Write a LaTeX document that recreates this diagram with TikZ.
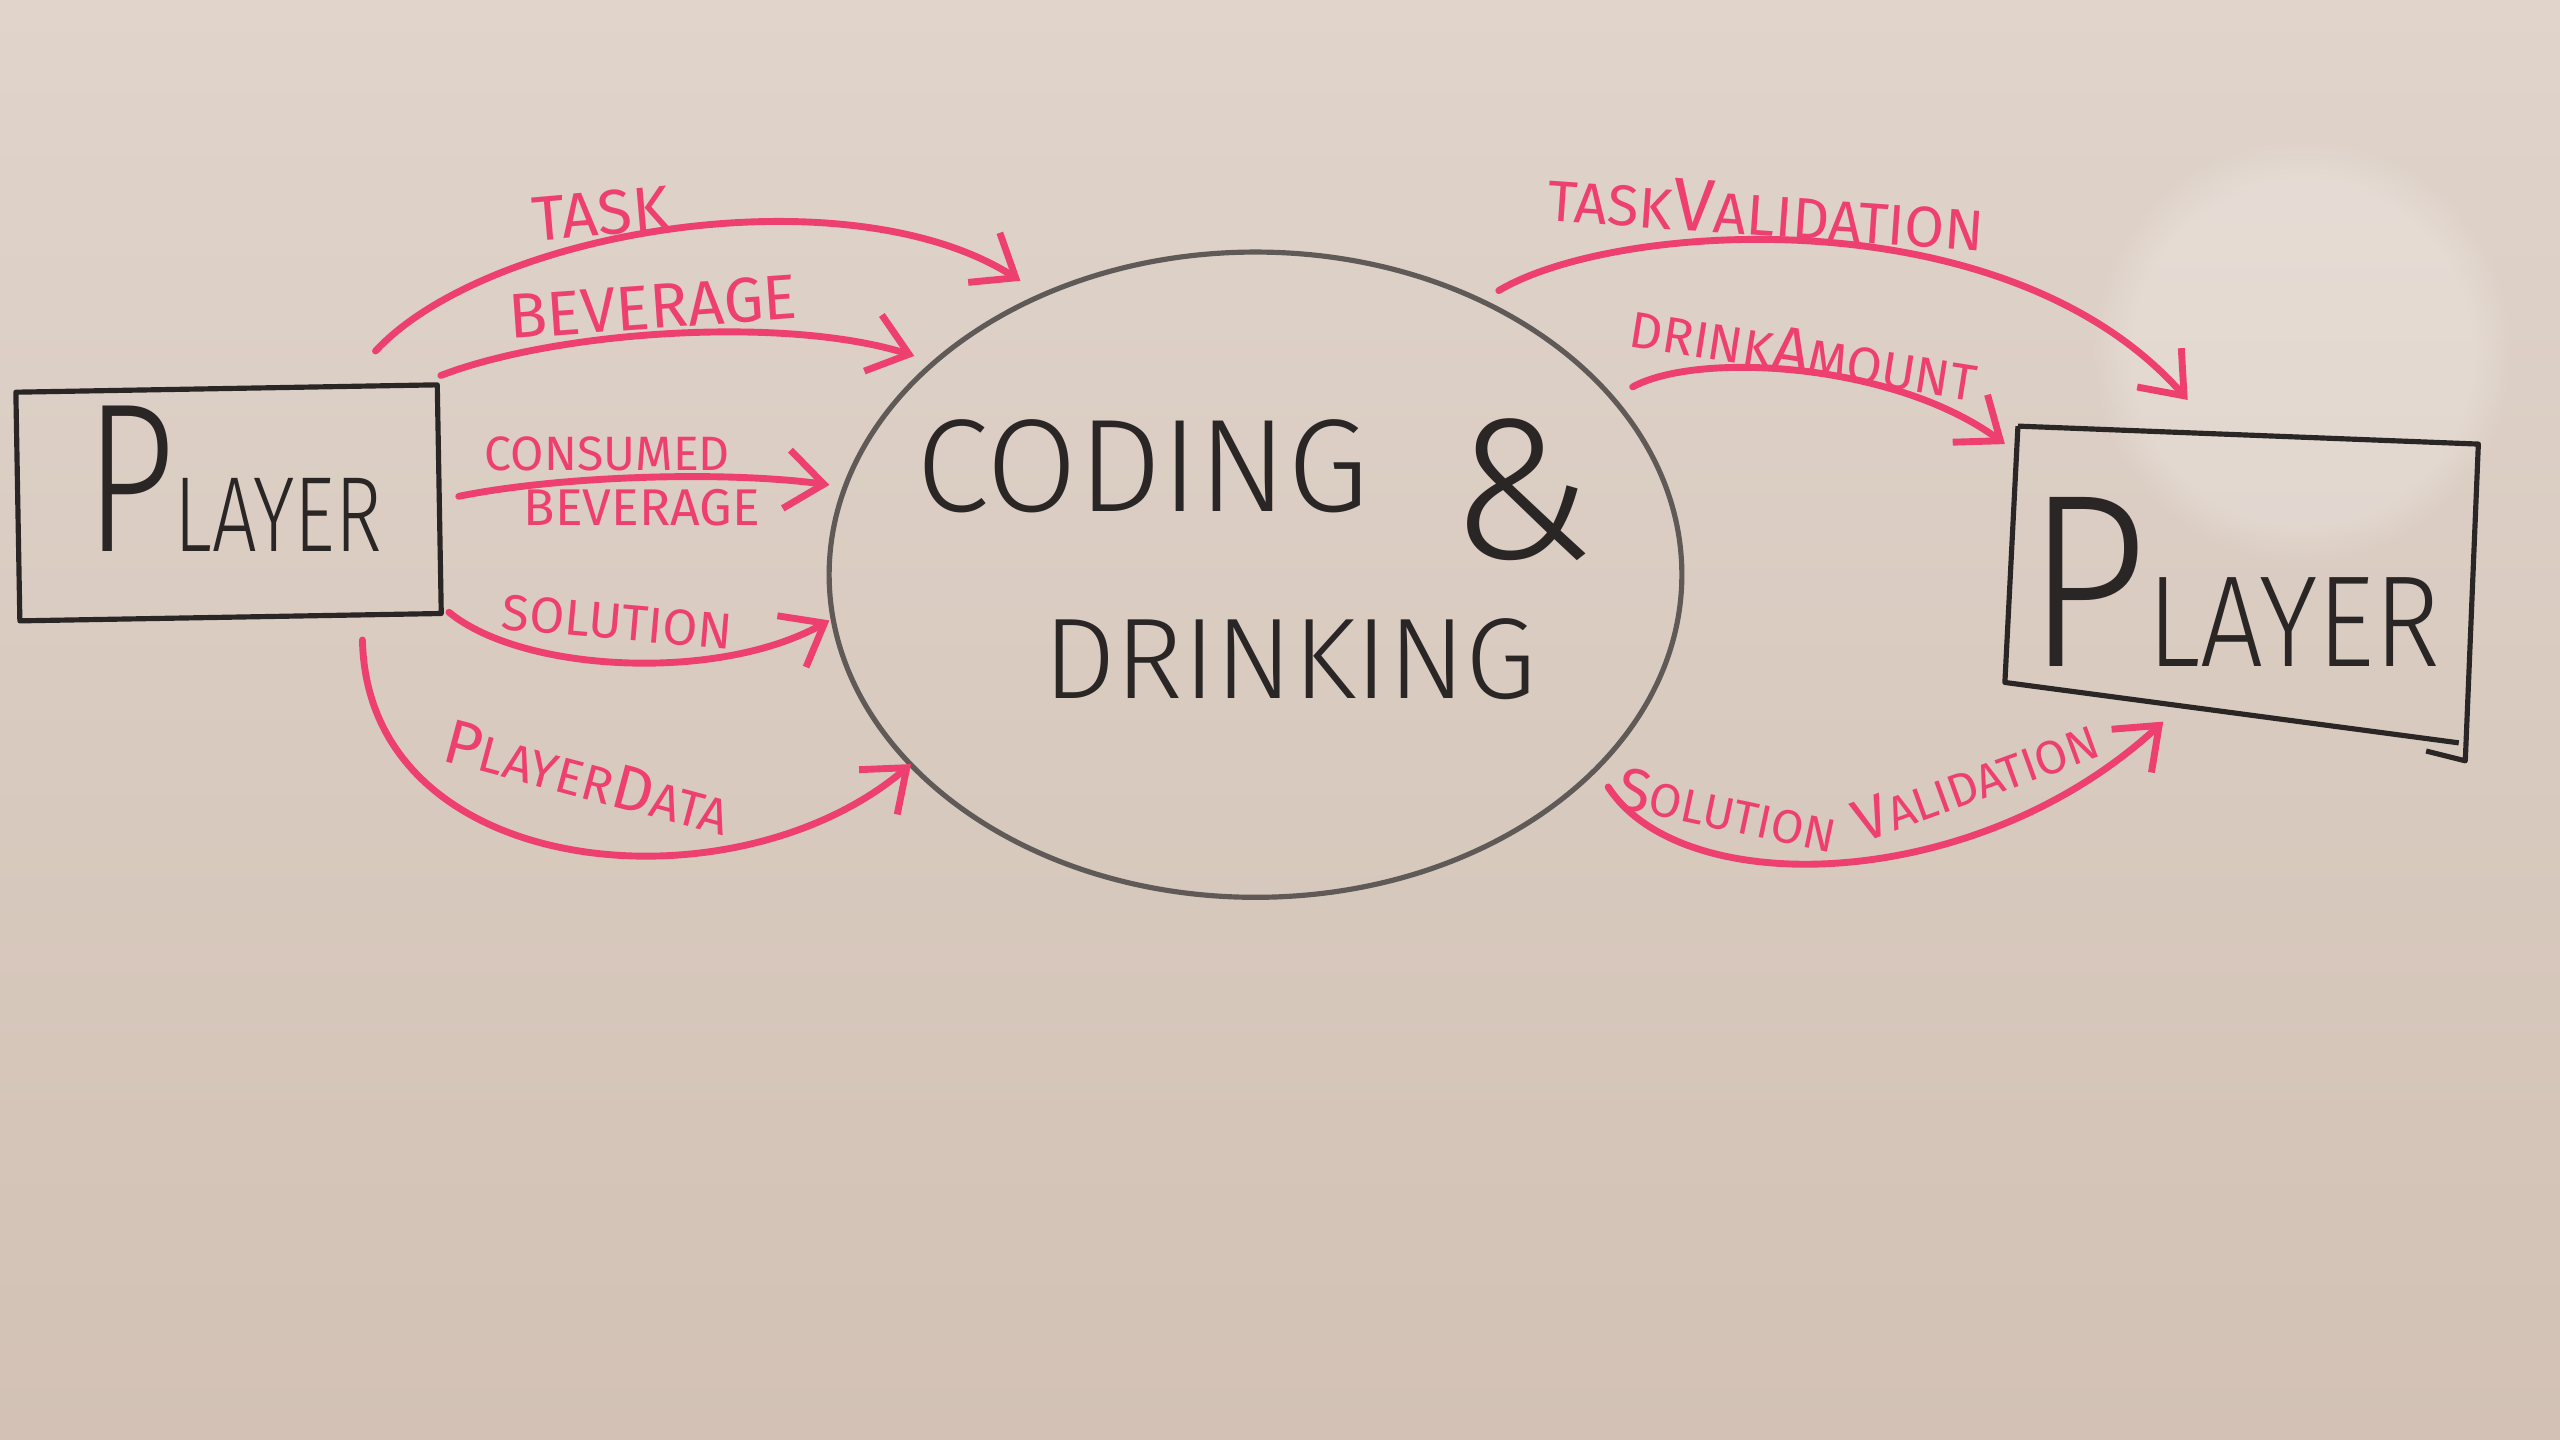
\documentclass[tikz,border=0pt]{standalone}
\usepackage{fontspec}
\setmainfont{Fira Sans}
\newfontfamily\thinf{Fira Sans Light}
\usetikzlibrary{shapes.geometric,arrows.meta,fadings}
\definecolor{bgtop}{RGB}{224,212,203}
\definecolor{bgbot}{RGB}{210,193,180}
\definecolor{pinkink}{RGB}{238,64,112}
\definecolor{inkblack}{RGB}{42,38,38}
\definecolor{inkgray}{RGB}{95,90,88}
\newcommand{\Bg}[2]{{\fontsize{#1}{#1}\selectfont #2}}
\begin{document}
\begin{tikzpicture}[x=0.01cm,y=-0.01cm,
  ink/.style={draw=inkblack,line width=0.9pt,line join=round},
  pk/.style={draw=pinkink,line width=1.2pt,line cap=round,
    -{Straight Barb[length=2.3mm,width=3.6mm]}},
  lab/.style={text=pinkink,inner sep=0pt},
  fs/.style={font=\fontsize{#1}{#1}\selectfont},
  blk/.style={text=inkblack,inner sep=0pt}]
\useasboundingbox (0,0) rectangle (1568,882);
\shade[top color=bgtop,bottom color=bgbot] (0,0) rectangle (1568,882);
\fill[white,opacity=0.22,path fading=circle with fuzzy edge 20 percent] (1410,215) circle (130);

% left player box
\node[ink,draw,rectangle,minimum width=2.58cm,minimum height=1.40cm,rotate=1] (p1) at (140,308) {};
\node[blk,anchor=base,xscale=0.74] (p1t) at (143,338)
  {\thinf{\fontsize{37}{37}\selectfont P}{\fontsize{18.6}{18.6}\selectfont LAYER}};

% central ellipse
\node[ellipse,draw=inkgray,line width=0.9pt,minimum width=5.22cm,minimum height=3.95cm] (cd) at (769,352) {};
\node[blk,anchor=base] (cod) at (700,313) {\thinf\fontsize{23}{23}\selectfont CODING};
\node[blk,anchor=base] (amp) at (932,342) {\thinf\fontsize{35}{35}\selectfont\&};
\node[blk,anchor=base] (drk) at (790,428) {\thinf\fontsize{20}{20}\selectfont DRINKING};

% right player box
\coordinate (q1) at (1236,261);
\coordinate (q2) at (1518,272);
\coordinate (q3) at (1510,466);
\coordinate (q4) at (1228,418);
\draw[ink] (q1) -- (q2) -- (q3) -- (1486,460);
\draw[ink] (q1) -- (q4) -- (1506,455);
\node[blk,anchor=base,xscale=0.86] (p2) at (1368,408)
  {\thinf{\fontsize{43}{43}\selectfont P}{\fontsize{22.6}{22.6}\selectfont LAYER}};

% connector end points
\coordinate (a1s) at (230,215); \coordinate (a1e) at (625,172);
\coordinate (a2s) at (270,230); \coordinate (a2e) at (560,218);
\coordinate (a3s) at (281,304); \coordinate (a3e) at (508,297);
\coordinate (a4s) at (275,375); \coordinate (a4e) at (508,380);
\coordinate (a5s) at (222,392); \coordinate (a5e) at (558,468);
\coordinate (b1s) at (918,178); \coordinate (b1e) at (1340,245);
\coordinate (b2s) at (1000,237); \coordinate (b2e) at (1228,272);
\coordinate (b3s) at (985,482); \coordinate (b3e) at (1325,442);

\draw[pk] (a1s) .. controls (300,140) and (520,105) .. (a1e);
\draw[pk] (a2s) .. controls (340,203) and (480,193) .. (a2e);
\draw[pk] (a3s) .. controls (340,292) and (440,288) .. (a3e);
\draw[pk] (a4s) .. controls (320,412) and (440,418) .. (a4e);
\draw[pk] (a5s) .. controls (225,540) and (450,560) .. (a5e);
\draw[pk] (b1s) .. controls (990,135) and (1230,120) .. (b1e);
\draw[pk] (b2s) .. controls (1040,215) and (1160,222) .. (b2e);
\draw[pk] (b3s) .. controls (1030,552) and (1210,548) .. (b3e);

% labels
\node[lab,fs=11,rotate=5] (lTask) at (368,131) {TASK};
\node[lab,fs=11,rotate=4] (lBev) at (400,188) {BEVERAGE};
\node[lab,fs=8.4] (lCons) at (372,278) {CONSUMED};
\node[lab,fs=9] (lCons2) at (393,311) {BEVERAGE};
\node[lab,fs=8.8,rotate=-5] (lSol) at (378,381) {SOLUTION};
\node[lab,fs=8.8,rotate=-15] (lPD) at (360,476) {\Bg{11}{P}LAYER\Bg{11}{D}ATA};
\node[lab,fs=10,rotate=-4] (lTV) at (1082,129) {TASK\Bg{13}{V}ALIDATION};
\node[lab,fs=8.9,rotate=-9] (lDA) at (1105,216) {DRINK\Bg{11}{A}MOUNT};
\node[lab,fs=8.2,rotate=-12] (lSV1) at (1058,496) {\Bg{10.5}{S}OLUTION};
\node[lab,fs=8.2,rotate=20] (lSV2) at (1210,478) {\Bg{10.5}{V}ALIDATION};
\end{tikzpicture}
\end{document}
